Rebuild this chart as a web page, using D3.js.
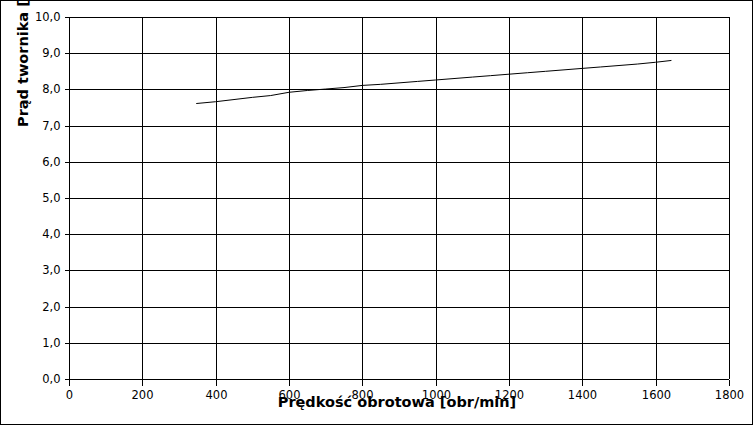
<!DOCTYPE html>
<html><head><meta charset="utf-8">
<script src="https://cdn.jsdelivr.net/npm/d3@7"></script>
<style>body{margin:0;background:#fff;} svg{display:block;font-family:"DejaVu Sans",sans-serif;}</style>
</head><body><svg id="c" width="754" height="426"></svg>
<script>
const speed = [347,400,450,500,550,600,650,700,750,800,850,900,950,1000,1050,1100,1150,1200,1250,1300,1350,1400,1450,1500,1550,1600,1643];
const current = [7.61,7.66,7.72,7.78,7.83,7.92,7.97,8.01,8.05,8.11,8.14,8.18,8.22,8.26,8.30,8.34,8.38,8.42,8.46,8.50,8.54,8.58,8.62,8.66,8.70,8.75,8.80];
const xTicks = [0,200,400,600,800,1000,1200,1400,1600,1800];
const yTicks = [0,1,2,3,4,5,6,7,8,9,10];
const xTitle = "Prędkość obrotowa [obr/min]";
const yTitle = "Prąd twornika [A]";

const svg = d3.select("#c");
const L=69, R=729, T=17, B=379;
const x = d3.scaleLinear().domain([0,1800]).range([L,R]);
const y = d3.scaleLinear().domain([0,10]).range([B,T]);

svg.append("rect").attr("x",0.5).attr("y",0.5).attr("width",752).attr("height",424)
  .attr("fill","none").attr("stroke","#000");

// grid
const g = svg.append("g").attr("stroke","#000").attr("stroke-width",1).attr("shape-rendering","crispEdges");
g.selectAll("line.v").data(xTicks).join("line")
  .attr("x1",d=>Math.round(x(d))+0.5).attr("x2",d=>Math.round(x(d))+0.5).attr("y1",T).attr("y2",B);
g.selectAll("line.h").data(yTicks).join("line")
  .attr("y1",d=>Math.round(y(d))+0.5).attr("y2",d=>Math.round(y(d))+0.5).attr("x1",L).attr("x2",R);

const fmt = d => d3.format(".1f")(d).replace(".",",");
const xa = svg.append("g").attr("transform",`translate(0,${Math.round(B)+0.5})`)
  .call(d3.axisBottom(x).tickValues(xTicks).tickSize(6).tickPadding(5).tickFormat(d3.format("d")));
const ya = svg.append("g").attr("transform",`translate(${L+0.5},0)`)
  .call(d3.axisLeft(y).tickValues(yTicks).tickSize(5).tickPadding(4).tickFormat(fmt));
[xa,ya].forEach(a=>{
  a.select(".domain").remove();
  a.selectAll("line").attr("stroke","#000").attr("shape-rendering","crispEdges");
  a.selectAll("text").attr("fill","#000").attr("font-size","11.5px").attr("font-family","DejaVu Sans");
});
ya.selectAll(".tick").attr("transform",d=>`translate(0,${Math.round(y(d))+0.5})`);
xa.selectAll(".tick").attr("transform",d=>`translate(${Math.round(x(d))+0.5},0)`);

svg.append("path").datum(speed.map((s,i)=>[s,current[i]]))
  .attr("fill","none").attr("stroke","#000").attr("stroke-width",1)
  .attr("d",d3.line().x(d=>x(d[0])).y(d=>y(d[1])));

svg.append("text").attr("x",(L+R)/2-2).attr("y",407).attr("text-anchor","middle")
  .attr("font-weight","bold").attr("font-size","14.5px").text(xTitle);
svg.append("text").attr("transform","translate(28,127) rotate(-90)").attr("text-anchor","start")
  .attr("font-weight","bold").attr("font-size","14.5px").text(yTitle);
</script></body></html>
